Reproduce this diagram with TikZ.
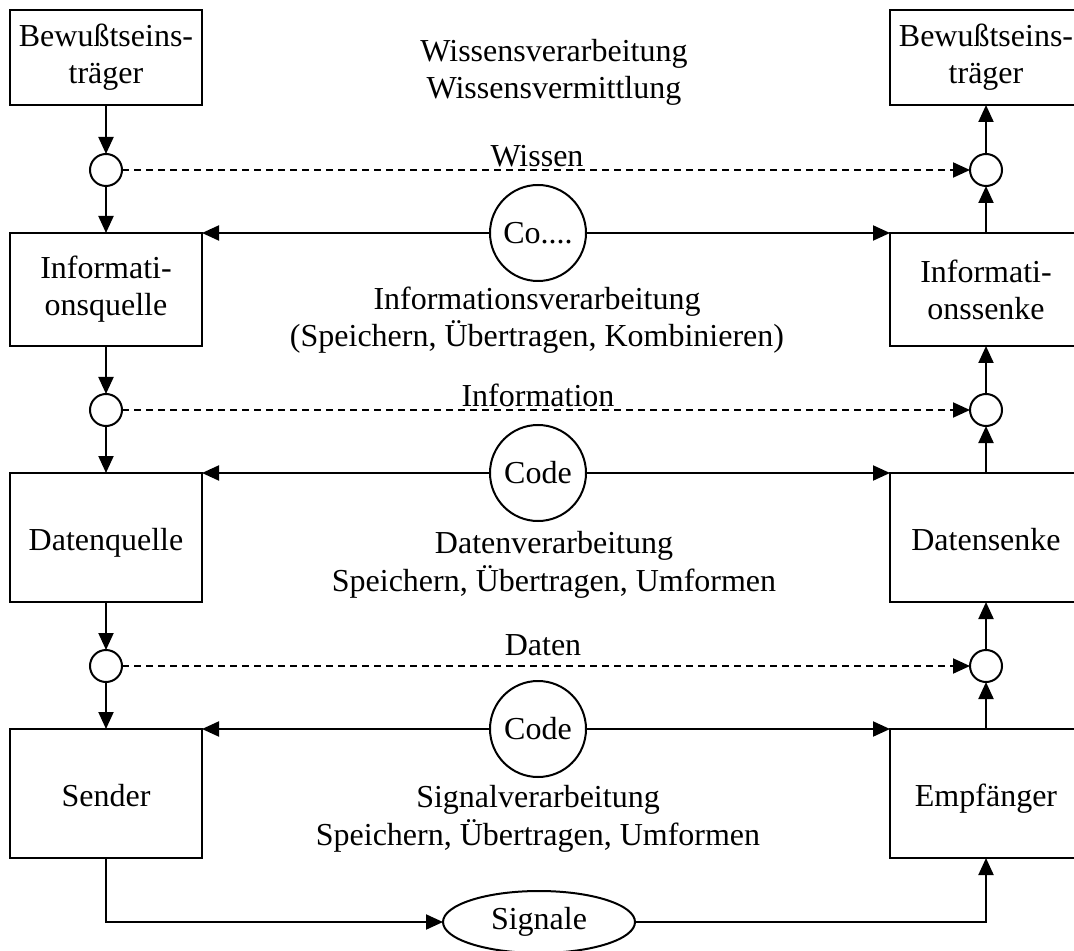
\documentclass[tikz,border=0pt]{standalone}
\usepackage{fontspec}
\setmainfont{Liberation Serif}
\usetikzlibrary{arrows.meta,shapes.geometric}
\begin{document}
\begin{tikzpicture}[x=0.5pt,y=-0.5pt,line width=1pt,
  font=\fontsize{16}{18.5}\selectfont,
  box/.style={draw,minimum width=96pt,inner sep=0pt,outer sep=0pt,align=center},
  oneline/.style={text height=12.5pt,text depth=0pt},
  dot/.style={draw,circle,minimum size=16pt,inner sep=0pt,outer sep=0pt},
  codec/.style={draw,circle,minimum size=48pt,inner sep=0pt,outer sep=0pt},
  lbl/.style={anchor=base,inner sep=0pt},
  arr/.style={-{Triangle[length=8.5pt,width=7.5pt]}},
  darr/.style={arr,dash pattern=on 3.5pt off 2.5pt}]
\useasboundingbox (0,0) rectangle (1074,951);
\clip (0,0) rectangle (1074,951);
% boxes
\node[box,minimum height=47.5pt] (b1) at (106,57.5) {Bewußtseins-\\träger};
\node[box,minimum height=47.5pt] (b2) at (986,57.5) {Bewußtseins-\\träger};
\node[box,minimum height=56.5pt] (iq) at (106,289.5) {Informati-\\onsquelle};
\node[box,minimum height=56.5pt] (is) at (986,289.5) {Informati-\\onssenke};
\node[box,oneline,minimum height=64.5pt] (dq) at (106,537.5) {Datenquelle};
\node[box,oneline,minimum height=64.5pt] (ds) at (986,537.5) {Datensenke};
\node[box,oneline,minimum height=64.5pt] (se) at (106,793.5) {Sender};
\node[box,oneline,minimum height=64.5pt] (em) at (986,793.5) {Empfänger};
% small circles
\node[dot] (l1) at (106,170) {};
\node[dot] (l2) at (106,410) {};
\node[dot] (l3) at (106,666) {};
\node[dot] (r1) at (986,170) {};
\node[dot] (r2) at (986,410) {};
\node[dot] (r3) at (986,666) {};
% code circles
\node[codec] (c1) at (538,233) {Co....};
\node[codec] (c2) at (538,473) {Code};
\node[codec] (c3) at (538,729) {Code};
\node[draw,ellipse,minimum width=96pt,minimum height=31pt,inner sep=0pt,outer sep=0pt] (sig) at (539,922) {Signale};
% texts
\node[lbl] (t1) at (554,62) {Wissensverarbeitung};
\node[lbl] (t2) at (554,99) {Wissensvermittlung};
\node[lbl] (t3) at (537,310) {Informationsverarbeitung};
\node[lbl] (t4) at (537,347) {(Speichern, Übertragen, Kombinieren)};
\node[lbl] (t5) at (554,553) {Datenverarbeitung};
\node[lbl] (t6) at (554,591) {Speichern, Übertragen, Umformen};
\node[lbl] (t7) at (538,807) {Signalverarbeitung};
\node[lbl] (t8) at (538,845) {Speichern, Übertragen, Umformen};
\node[lbl] (w1) at (537,167) {Wissen};
\node[lbl] (w2) at (538,407) {Information};
\node[lbl] (w3) at (543,655) {Daten};
% vertical connectors left
\draw[arr] (b1) -- (l1);
\draw[arr] (l1) -- (iq);
\draw[arr] (iq) -- (l2);
\draw[arr] (l2) -- (dq);
\draw[arr] (dq) -- (l3);
\draw[arr] (l3) -- (se);
% vertical connectors right
\draw[arr] (r1) -- (b2);
\draw[arr] (is) -- (r1);
\draw[arr] (r2) -- (is);
\draw[arr] (ds) -- (r2);
\draw[arr] (r3) -- (ds);
\draw[arr] (em) -- (r3);
% dashed
\draw[darr] (l1) -- (r1);
\draw[darr] (l2) -- (r2);
\draw[darr] (l3) -- (r3);
% solid horizontals
\draw[arr] (c1) -- (iq.north east);
\draw[arr] (c1) -- (is.north west);
\draw[arr] (c2) -- (dq.north east);
\draw[arr] (c2) -- (ds.north west);
\draw[arr] (c3) -- (se.north east);
\draw[arr] (c3) -- (em.north west);
% signal path
\draw[arr] (se.south) |- (sig.west);
\draw[arr] (sig.east) -| (em.south);
\end{tikzpicture}
\end{document}
